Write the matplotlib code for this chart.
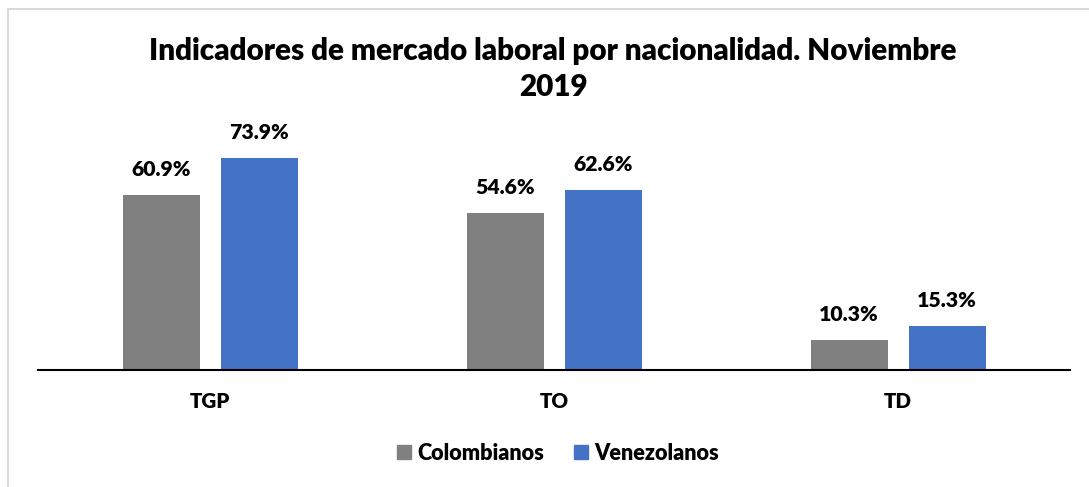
import matplotlib
matplotlib.use("Agg")
import matplotlib.pyplot as plt
from matplotlib.patches import Rectangle, Patch
import numpy as np

categories = ["TGP", "TO", "TD"]
colombianos = [60.9, 54.6, 10.3]
venezolanos = [73.9, 62.6, 15.3]
series_names = ["Colombianos", "Venezolanos"]
title = "Indicadores de mercado laboral por nacionalidad. Noviembre\n2019"

plt.rcParams['font.family'] = ['Lato', 'DejaVu Sans']
W, H = 1089, 487
fig = plt.figure(figsize=(W / 100, H / 100), dpi=100)
fig.patch.set_facecolor("white")

# outer border
fig.patches.append(Rectangle((8 / W, -0.1), 1.2, (H - 8.5) / H + 0.1, transform=fig.transFigure,
                             fill=False, edgecolor="#d9d9d9", linewidth=1.5))

ax = fig.add_axes([38 / W, (H - 370) / H, 1032 / W, 80 * 2.87 / H])
x = np.arange(len(categories))
bw = 77 / 344
off = 49 / 344
gray = "#808080"
blue = "#4472C4"
wt = "heavy"
b1 = ax.bar(x - off, colombianos, bw, color=gray)
b2 = ax.bar(x + off, venezolanos, bw, color=blue)
for bars, vals in ((b1, colombianos), (b2, venezolanos)):
    for r, v in zip(bars, vals):
        ax.annotate(f"{v:.1f}%", (r.get_x() + r.get_width() / 2, v), xytext=(0, 11.5),
                    textcoords="offset points", ha="center", va="bottom",
                    fontsize=15.3, fontweight=wt)
ax.set_xlim(-0.5, 2.5)
ax.set_ylim(0, 80)
ax.set_xticks(x)
ax.set_xticklabels(categories, fontsize=14.8, fontweight=wt)
ax.tick_params(axis="x", length=0, pad=16)
ax.set_yticks([])
for s in ["top", "right", "left"]:
    ax.spines[s].set_visible(False)
ax.spines["bottom"].set_linewidth(1.5)

fig.text(553 / W, 1 - 69 / H, title, ha="center", va="center", fontsize=21.3,
         fontweight=wt, linespacing=1.33)

handles = [Patch(color=gray), Patch(color=blue)]
leg = fig.legend(handles, series_names, loc="center", bbox_to_anchor=(558 / W, 1 - 453 / H),
                 ncol=2, frameon=False, prop={"size": 15.6, "weight": wt},
                 handlelength=0.65, handleheight=0.65, handletextpad=0.3, columnspacing=1.35)

fig.savefig("out.png", dpi=100, facecolor="white")
